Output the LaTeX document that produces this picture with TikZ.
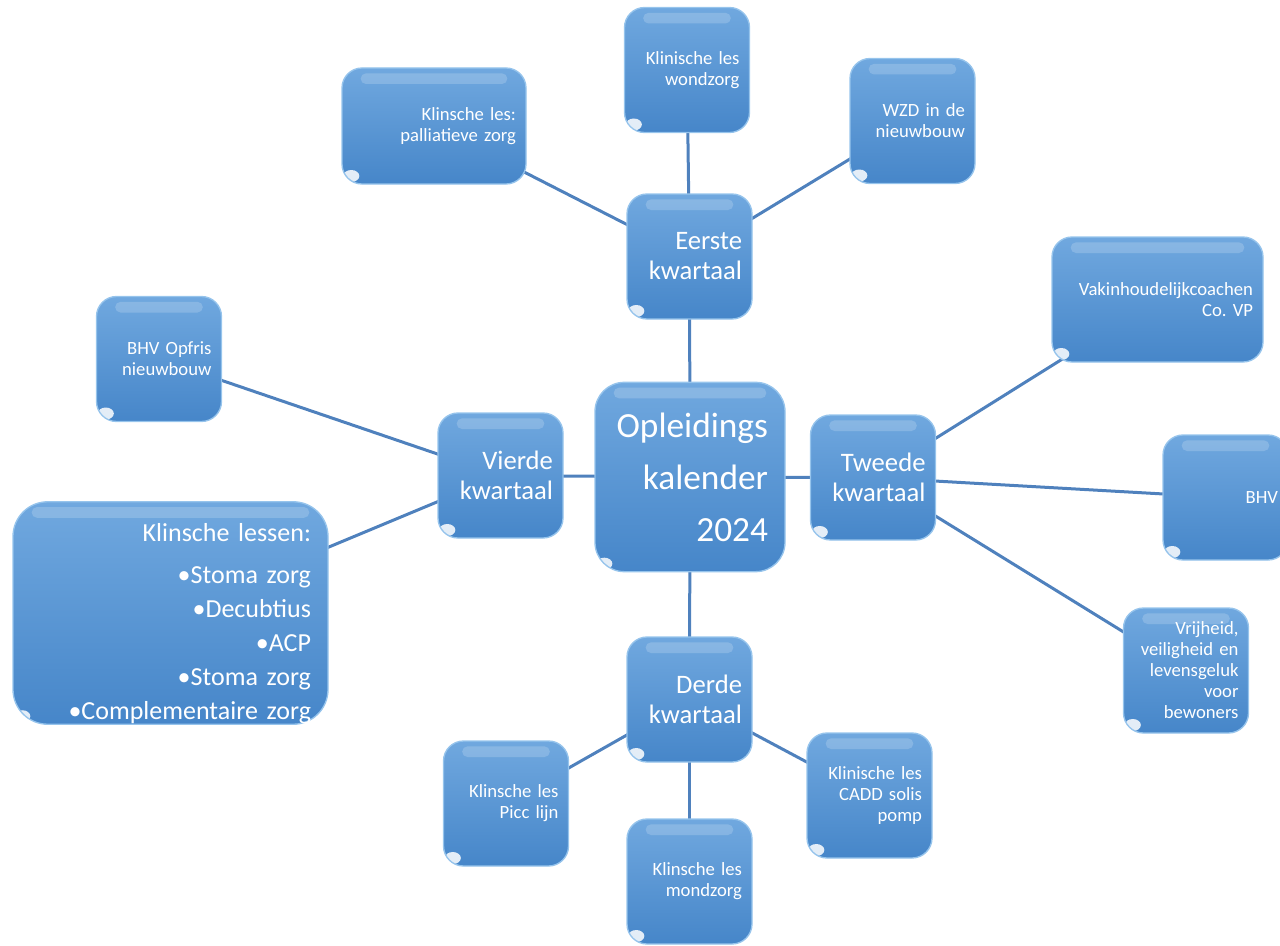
\documentclass[tikz,border=0pt]{standalone}
\usepackage{fontspec}
\setmainfont{Carlito}
\usepackage{tikz}
\usetikzlibrary{backgrounds}
\definecolor{boxtop}{RGB}{112,168,223}
\definecolor{boxbot}{RGB}{70,134,201}
\definecolor{boxrim}{RGB}{150,196,236}
\definecolor{linkblue}{RGB}{79,129,189}
\frenchspacing
\tikzset{every picture/.style={line width=0.75pt}}
\tikzset{
  kbox/.style={rounded corners=15pt, draw=boxrim, line width=1pt, top color=boxtop, bottom color=boxbot,
    text=white, align=right, inner xsep=7.5pt, inner ysep=0pt, text width=78.75pt, minimum height=93.75pt,
    font=\fontsize{14}{15.75}\selectfont,
    path picture={
      \fill[white,opacity=0.18,rounded corners=4pt] ([xshift=14pt,yshift=-4pt]path picture bounding box.north west) rectangle ([xshift=-14pt,yshift=-12pt]path picture bounding box.north east);
      \fill[white,opacity=0.85] ([xshift=7pt,yshift=6pt]path picture bounding box.south west) ellipse (6pt and 4.5pt);
    }},
  mbox/.style={kbox, font=\fontsize{20}{22.5}\selectfont},
  kline/.style={draw=linkblue, line width=2.25pt}
}

\begin{document}
\begin{tikzpicture}[x=0.75pt,y=0.75pt,yscale=-1,xscale=1]
\useasboundingbox (0,0) rectangle (1280,945);

%Shape: Rounded Rect (centre)
\draw (690,477) node [kbox, rounded corners=22pt, inner xsep=12.75pt, text width=117pt, minimum height=142pt, font=\fontsize{26.5}{39}\selectfont] (kal) {Opleidings\\kalender\\2024};

%Shape: Rounded Rect (kwartalen)
\draw (689.5,256.5) node [mbox] (eerste) {Eerste\\kwartaal};
\draw (873,477.5) node [mbox] (tweede) {Tweede\\kwartaal};
\draw (689.5,699.5) node [mbox] (derde) {Derde\\kwartaal};
\draw (500.5,475.5) node [mbox] (vierde) {Vierde\\kwartaal};

%Shape: Rounded Rect (eerste)
\draw (434,126) node [kbox, text width=123pt, minimum height=87pt] (pall) {Klinsche les:\\palliatieve zorg};
\draw (687,70) node [kbox] (wond) {Klinische les\\wondzorg};
\draw (912.5,121) node [kbox] (wzd) {WZD in de\\nieuwbouw};

%Shape: Rounded Rect (tweede)
\draw (1157.5,299.5) node [kbox, text width=143.25pt] (vak) {Vakinhoudelijkcoachen\\Co. VP};
\draw (1225.5,497.5) node [kbox] (bhv) {BHV};
\draw (1186,670.5) node [kbox] (vrij) {Vrijheid,\\veiligheid en\\levensgeluk\\voor\\bewoners};

%Shape: Rounded Rect (derde)
\draw (869.5,795.5) node [kbox] (cadd) {Klinische les\\CADD solis\\pomp};
\draw (689.5,881.5) node [kbox] (mond) {Klinsche les\\mondzorg};
\draw (506,803.5) node [kbox] (picc) {Klinsche les\\Picc lijn};

%Shape: Rounded Rect (vierde)
\draw (159,359) node [kbox] (opfris) {BHV Opfris\\nieuwbouw};
\draw (170.5,613) node [kbox, rounded corners=26pt, inner xsep=12.75pt, text width=210.75pt, minimum height=165pt, font=\fontsize{19.5}{25.5}\selectfont] (lessen) {\rule{0pt}{30pt}Klinsche lessen:\\[6pt]•Stoma zorg\\•Decubtius\\•ACP\\•Stoma zorg\\•Complementaire zorg};

%Straight Lines
\begin{scope}[on background layer]
\foreach \a/\b in {kal/eerste, kal/tweede, kal/derde, kal/vierde,
  eerste/pall, eerste/wond, eerste/wzd,
  tweede/vak, tweede/bhv, tweede/vrij,
  derde/cadd, derde/mond, derde/picc,
  vierde/opfris, vierde/lessen}
  \draw [kline] (\a.center) -- (\b.center);
\end{scope}

\end{tikzpicture}
\end{document}
